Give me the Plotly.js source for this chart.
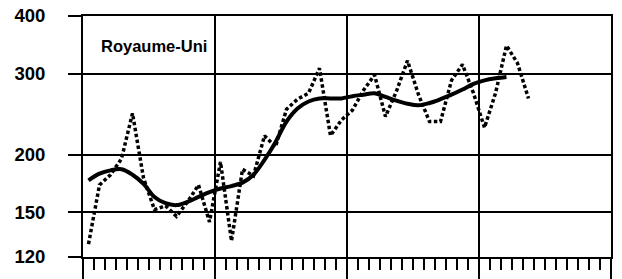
<!DOCTYPE html>
<html>
<head>
<meta charset="utf-8">
<script src="https://cdn.plot.ly/plotly-3.0.1.min.js"></script>
<style>html,body{margin:0;padding:0;background:#fff;}#chart{width:622px;height:279px;}</style>
</head>
<body>
<div id="chart"></div>
<script>
// Monthly index values (dotted line), 41 months
const monthlyValues = [128, 172, 181, 196, 246, 178, 152, 155, 147, 158,
  172, 143, 193, 130, 186, 180, 220, 208, 251, 264,
  272, 308, 220, 238, 250, 276, 298, 242, 275, 320,
  270, 236, 236, 290, 314, 272, 229, 272, 345, 316,
  265];
// Smoothed trend (solid line), 39 months
const trendValues = [176, 182, 185, 186, 181, 173, 162, 157, 155.5, 158,
  162, 166, 169, 171, 174, 181, 195, 213, 236, 252,
  261, 265, 265, 265, 268, 270, 272, 267, 262, 258,
  256, 259, 264, 270, 277, 285, 290, 293, 295];
const yTickValues = [120, 150, 200, 300, 400];
const yTickLabels = ['120', '150', '200', '300', '400'];
const yearBoundaries = [0, 12, 24, 36, 48];
const chartTitle = 'Royaume-Uni';

const monthX = monthlyValues.map((_, i) => i + 0.5);
const trendX = trendValues.map((_, i) => i + 0.5);

const traces = [
  {
    x: monthX, y: monthlyValues, type: 'scatter', mode: 'lines',
    line: {color: '#000', width: 3.5, dash: '3.5px,2.5px'},
    hoverinfo: 'skip'
  },
  {
    x: trendX, y: trendValues, type: 'scatter', mode: 'lines',
    line: {color: '#000', width: 4, shape: 'spline', smoothing: 1},
    hoverinfo: 'skip'
  }
];

const layout = {
  width: 622, height: 279,
  margin: {l: 83, r: 11, t: 16, b: 22, pad: 0},
  paper_bgcolor: '#fff', plot_bgcolor: '#fff',
  showlegend: false,
  xaxis: {
    range: [0, 48], tickmode: 'array', tickvals: yearBoundaries,
    showticklabels: false, ticks: 'outside', ticklen: 22, tickwidth: 2, tickcolor: '#000',
    showgrid: true, gridcolor: '#000', gridwidth: 2,
    showline: true, mirror: true, linecolor: '#000', linewidth: 2,
    zeroline: false,
    minor: {dtick: 1, tick0: 0, ticks: 'outside', ticklen: 11, tickwidth: 2, tickcolor: '#000', showgrid: false}
  },
  yaxis: {
    type: 'log', range: [Math.log10(120), Math.log10(400)],
    tickmode: 'array', tickvals: yTickValues, ticktext: yTickLabels,
    ticks: 'outside', ticklen: 13, tickwidth: 2, tickcolor: '#000',
    ticklabelstandoff: 19,
    tickfont: {family: 'Liberation Sans, Arial, sans-serif', size: 18.5, color: '#000', weight: 'bold'},
    showgrid: true, gridcolor: '#000', gridwidth: 2,
    showline: true, mirror: true, linecolor: '#000', linewidth: 2,
    zeroline: false
  },
  annotations: [{
    text: '<b>' + chartTitle + '</b>', xref: 'paper', yref: 'paper',
    x: 0.03, y: 0.875, xanchor: 'left', yanchor: 'middle', showarrow: false,
    font: {family: 'Liberation Sans, Arial, sans-serif', size: 16.5, color: '#000'}
  }]
};

Plotly.newPlot('chart', traces, layout, {displayModeBar: false, staticPlot: true});
</script>
</body>
</html>
